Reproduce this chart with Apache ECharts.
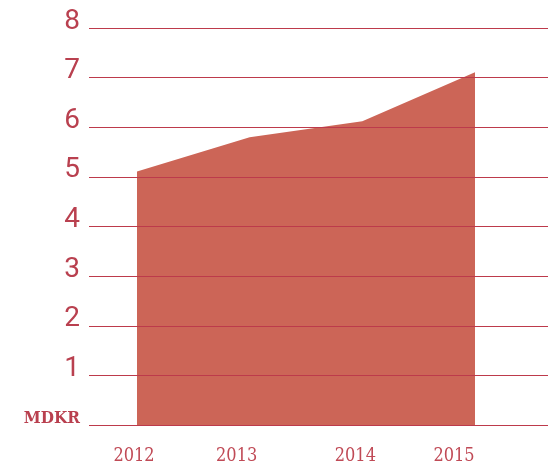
<!DOCTYPE html>
<html>
<head>
<meta charset="utf-8">
<script src="https://cdn.jsdelivr.net/npm/echarts@6/dist/echarts.min.js"></script>
<style>
html,body{margin:0;padding:0;background:#fff;}
#main{width:548px;height:468px;}
</style>
</head>
<body>
<div id="main"></div>
<script>
// data
var years = [2012, 2013, 2014, 2015];
var values = [5.11, 5.8, 6.12, 7.11];
var unitLabel = 'MDKR';

var chart = echarts.init(document.getElementById('main'));

var red = '#b9404f';
var seriesData = [];
for (var i = 0; i < years.length; i++) {
    seriesData.push([years[i], values[i]]);
}

// nudges for year labels (px to the left)
var labelShift = [3, 13, 7, 21];
var rich = {};
for (var k = 0; k < years.length; k++) {
    rich['y' + k] = {
        fontFamily: 'DejaVu Serif Condensed',
        fontSize: 18,
        color: '#c04a56',
        padding: [0, labelShift[k] * 2, 0, 0]
    };
}

var option = {
    backgroundColor: '#fff',
    animation: false,
    grid: {left: 89, right: 0, top: 28, bottom: 43},
    xAxis: {
        type: 'value',
        min: 2011.574,
        max: 2015.648,
        splitLine: {show: false},
        axisLine: {show: false},
        axisTick: {show: false},
        axisLabel: {
            customValues: years,
            margin: 22,
            formatter: function (v) {
                var idx = years.indexOf(v);
                return '{y' + idx + '|' + v + '}';
            },
            rich: rich
        }
    },
    yAxis: {
        type: 'value',
        min: 0,
        max: 8,
        interval: 1,
        z: 5,
        axisLine: {show: false},
        axisTick: {show: false},
        splitLine: {lineStyle: {color: '#bd3a4b', width: 1}},
        axisLabel: {
            margin: 9,
            color: red,
            fontFamily: 'Roboto',
            fontWeight: 'normal',
            fontSize: 28,
            padding: [0, 0, 13, 0],
            formatter: function (v) {
                return v === 0 ? '{m|' + unitLabel + '}' : String(v);
            },
            rich: {
                m: {
                    fontFamily: 'DejaVu Serif Condensed',
                    fontWeight: 'bold',
                    fontSize: 17,
                    color: red
                }
            }
        }
    },
    series: [{
        type: 'line',
        data: seriesData,
        symbol: 'none',
        lineStyle: {width: 0},
        areaStyle: {color: '#cc6557', opacity: 1}
    }]
};
chart.setOption(option);
</script>
</body>
</html>
